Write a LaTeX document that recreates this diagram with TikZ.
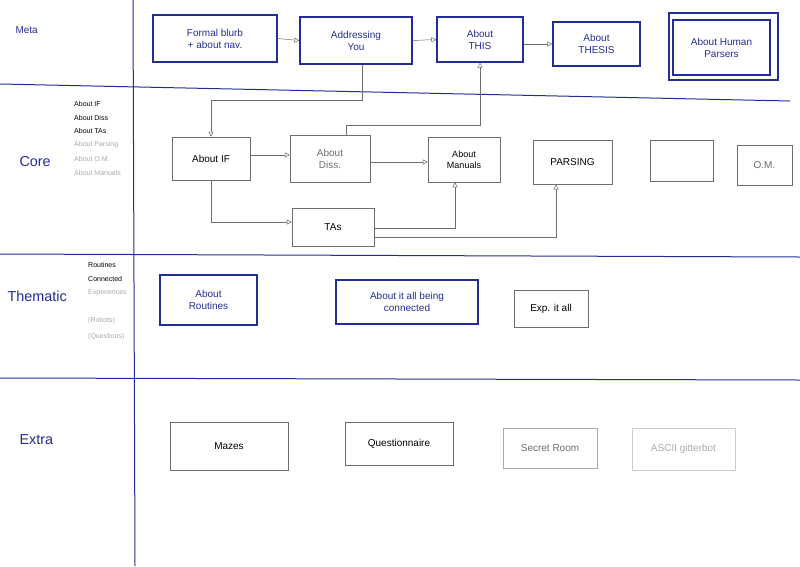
\documentclass[tikz,border=0pt]{standalone}
\usepackage{fontspec}
\setmainfont{Liberation Sans}
\usetikzlibrary{arrows.meta}
\definecolor{pen}{RGB}{35,45,150}
\definecolor{pencil}{RGB}{110,110,110}
\definecolor{light}{RGB}{170,170,170}
\begin{document}
\begin{tikzpicture}[x=1pt,y=-1pt,
  bbox/.style={draw=pen,line width=1.2pt,text=pen,align=center,font=\normalsize,inner sep=0pt},
  gbox/.style={draw=pencil,line width=0.5pt,text=black,align=center,font=\normalsize,inner sep=0pt},
  conn/.style={draw=pencil,line width=0.5pt,-{Triangle[open,length=5pt,width=5pt]}},
  sec/.style={text=pen,font=\Large,anchor=west},
  lst/.style={font=\scriptsize,anchor=west,inner sep=0pt}]
\fill[white] (0,0) rectangle (800,566);
\useasboundingbox (0,0) rectangle (800,566);
% grid lines
\draw[pen,line width=1pt] (133,0) -- (135,566);
\draw[pen,line width=1pt] (0,84) -- (790,101);
\draw[pen,line width=1pt] (0,254) -- (800,257);
\draw[pen,line width=1pt] (0,378) -- (800,380);
% section labels
\node[sec,font=\normalsize] (lmeta) at (12,30) {Meta};
\node[sec] (lcore) at (16,162) {Core};
\node[sec] (lthem) at (4,296) {Thematic};
\node[sec] (lext) at (16,440) {Extra};
% core list
\node[lst] (c1) at (74,104) {About IF};
\node[lst] (c2) at (74,118) {About Diss};
\node[lst] (c3) at (74,131) {About TAs};
\node[lst,text=light] (c4) at (74,145) {About Parsing};
\node[lst,text=light] (c5) at (74,159) {About O.M.};
\node[lst,text=light] (c6) at (74,173) {About Manuals};
% thematic list
\node[lst] (t1) at (88,265) {Routines};
\node[lst] (t2) at (88,279) {Connected};
\node[lst,text=light] (t3) at (88,293) {Experiences};
\node[lst,text=light] (t4) at (88,321) {(Robots)};
\node[lst,text=light] (t5) at (88,337) {(Questions)};
% meta boxes
\node[bbox,minimum width=124,minimum height=47] (blurb) at (215,38.5) {Formal blurb\\+ about nav.};
\node[bbox,minimum width=112,minimum height=47] (addr) at (356,40.5) {Addressing\\You};
\node[bbox,minimum width=86,minimum height=45] (this) at (480,39.5) {About\\THIS};
\node[bbox,minimum width=87,minimum height=44] (thesis) at (596.5,44) {About\\THESIS};
\node[bbox,minimum width=109,minimum height=67] (hum) at (723.5,46.5) {};
\node[bbox,minimum width=97,minimum height=55] (humi) at (721.5,47.5) {About Human\\Parsers};
% core boxes
\node[gbox,minimum width=78,minimum height=43] (aif) at (211,158.5) {About IF};
\node[gbox,minimum width=80,minimum height=47,text=pencil] (diss) at (330,158.5) {About\\Diss.};
\node[gbox,minimum width=72,minimum height=45,font=\small] (man) at (464,159.5) {About\\Manuals};
\node[gbox,minimum width=79,minimum height=44] (pars) at (572.5,162) {PARSING};
\node[gbox,minimum width=63,minimum height=41] (empty) at (681.5,160.5) {};
\node[gbox,minimum width=55,minimum height=40,text=pencil] (om) at (764.5,165) {O.M.};
\node[gbox,minimum width=82,minimum height=38] (tas) at (333,227) {TAs};
% thematic
\node[bbox,minimum width=97,minimum height=50] (rout) at (208.5,300) {About\\Routines};
\node[bbox,minimum width=142,minimum height=44] (conn) at (407,302) {About it all being\\connected};
\node[gbox,minimum width=74,minimum height=37] (exp) at (551,308.5) {Exp. it all};
% extra
\node[gbox,minimum width=118,minimum height=48] (maze) at (229,446) {Mazes};
\node[gbox,minimum width=108,minimum height=43] (quest) at (399,443.5) {Questionnaire};
\node[gbox,minimum width=94,minimum height=40,draw=light,text=pencil] (secret) at (550,448) {Secret Room};
\node[gbox,minimum width=103,minimum height=42,draw=light!60,text=light] (ascii) at (683.5,449) {ASCII gitterbot};
% connectors
\draw[conn] (blurb.east) -- (addr.west);
\draw[conn] (addr.east) -- (this.west);
\draw[conn] (this.east |- thesis.west) -- (thesis.west);
\draw[conn] (addr.south -| 362,0) -- ++(0,36) -| (aif.north);
\draw[conn] (diss.north -| 346,0) -- ++(0,-10) -| (this.south -| 480,0);
\draw[conn] (aif.east |- 0,155) -- (diss.west |- 0,155);
\draw[conn] (diss.east |- 0,162) -- (man.west |- 0,162);
\draw[conn] (aif.south) |- (tas.west |- 0,222);
\draw[conn] (tas.east |- 0,228) -| (man.south -| 455,0);
\draw[conn] (tas.east |- 0,237) -| (pars.south -| 556,0);
\end{tikzpicture}
\end{document}
